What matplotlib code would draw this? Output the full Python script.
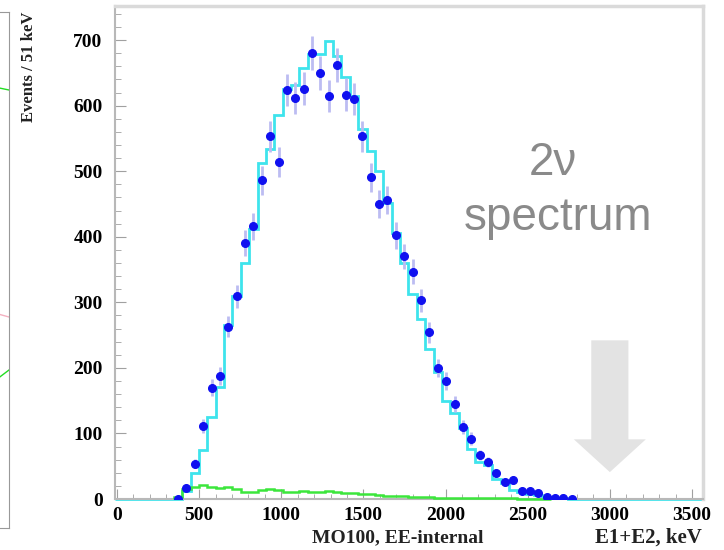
import numpy as np
import matplotlib
matplotlib.use("Agg")
import matplotlib.pyplot as plt
from matplotlib.patches import FancyArrow
from matplotlib.ticker import MultipleLocator

# Bines de 51 keV, el primero con datos empieza en 346 keV
ancho_bin = 51
borde_min = -11
primer_bin = 7

eventos = [0, 17, 54, 112, 170, 188, 263, 309, 390, 416,
           486, 553, 514, 624, 612, 626, 680, 650, 615, 662,
           617, 610, 553, 491, 450, 456, 402, 370, 347, 303,
           254, 200, 180, 145, 110, 92, 67, 57, 40, 26,
           29, 12, 12, 9, 3, 1, 1, 0]

mc_2nu = [0, 12, 40, 75, 125, 171, 265, 310, 360, 412,
          512, 534, 586, 625, 632, 657, 679, 679, 698, 676,
          643, 615, 564, 531, 500, 452, 406, 360, 312, 274,
          229, 193, 150, 131, 108, 76, 57, 52, 30, 25,
          14, 10, 8, 6, 3, 2, 1, 0]

fondo = [3, 15, 19, 22, 19, 17, 19, 16, 11, 11,
         13, 15, 14, 10, 11, 12, 11, 11, 12, 10,
         9, 9, 8, 7, 6, 5, 4, 4, 3, 3,
         3, 2, 2, 2, 2, 1, 1, 1, 1, 1,
         1, 0, 0, 0, 0]

# trozos del panel vecino (x, y en pixeles)
panel_izq_verde1 = ([-20, 9], [84, 90])
panel_izq_verde2 = ([-20, 9], [392, 370])
panel_izq_rosa = ([-20, 9], [309, 317])

bordes = np.arange(borde_min, 3560, ancho_bin)
mc_total = np.zeros(len(bordes) - 1)
mc_total[primer_bin:primer_bin + len(mc_2nu)] = mc_2nu
centros = bordes[primer_bin:primer_bin + len(eventos)] + ancho_bin / 2
bordes_fondo = bordes[primer_bin:primer_bin + len(fondo) + 1]

fig = plt.figure(figsize=(7.24, 5.50), dpi=100)
ax = fig.add_axes([115 / 724, 51 / 550, 588 / 724, 493 / 550])

ax.stairs(mc_total, bordes, color="#3ee4ec", lw=2, clip_on=False, zorder=2)
ax.stairs(fondo, bordes_fondo, color="#3ce63c", lw=1.8, clip_on=False, zorder=3)
ax.errorbar(centros, eventos, yerr=np.sqrt(eventos), fmt="o", color="#1010f0",
            ms=5.5, ecolor="#bcbcf2", elinewidth=2, capsize=0, zorder=4)

# flecha hacia 3000 keV
ax.add_patch(FancyArrow(3000, 242, 0, -201, width=226, head_width=438,
                        head_length=50, length_includes_head=True,
                        color="#e3e3e3", ec="none", zorder=1))

ax.set_xlim(-12, 3567)
ax.set_ylim(0, 752)
ax.xaxis.set_major_locator(MultipleLocator(500))
ax.xaxis.set_minor_locator(MultipleLocator(100))
ax.yaxis.set_major_locator(MultipleLocator(100))
ax.yaxis.set_minor_locator(MultipleLocator(20))
ax.tick_params(axis="both", which="both", direction="in", color="#a0a0a0",
               labelsize=14, top=False, right=False)
ax.tick_params(axis="y", which="major", length=8, pad=9)
ax.tick_params(axis="y", which="minor", length=4.5)
ax.tick_params(axis="x", which="major", length=7, pad=6)
ax.tick_params(axis="x", which="minor", length=3.5)
for lab in ax.get_xticklabels() + ax.get_yticklabels():
    lab.set_family("Liberation Serif")
    lab.set_fontweight("bold")
for lado in ["left", "bottom"]:
    ax.spines[lado].set_color("#b8b8b8")
    ax.spines[lado].set_linewidth(1.5)
for lado in ["top", "right"]:
    ax.spines[lado].set_color("#dadada")
    ax.spines[lado].set_linewidth(2.5)

fuente = dict(family="Liberation Serif", fontweight="bold", color="#222222")
fig.text(29 / 724, 1 - 12 / 550, "Events / 51 keV", rotation=90,
         ha="center", va="top", fontsize=12, **fuente)
fig.text(398 / 724, 1 - 538 / 550, "MO100, EE-internal", ha="center",
         va="center", fontsize=14, **fuente)
fig.text(702 / 724, 1 - 538 / 550, "E1+E2, keV", ha="right",
         va="center", fontsize=15, **fuente)

gris = dict(family="Liberation Sans", color="#8a8a8a", fontsize=33,
            ha="center", va="center")
fig.text(553 / 724, 1 - 163 / 550, "2\u03bd", **gris)
fig.text(558 / 724, 1 - 218 / 550, "spectrum", **gris)

# borde del panel de la izquierda
ax2 = fig.add_axes([-20 / 724, 22 / 550, 29 / 724, 516 / 550])
ax2.set_xlim(-20, 9)
ax2.set_ylim(528, 12)
ax2.plot(*panel_izq_verde1, color="#22dd22", lw=1)
ax2.plot(*panel_izq_verde2, color="#22dd22", lw=1)
ax2.plot(*panel_izq_rosa, color="#f4b0c0", lw=1)
ax2.set_xticks([])
ax2.set_yticks([])
for lado in ax2.spines.values():
    lado.set_color("#999999")

fig.savefig("out.png", dpi=100, facecolor="white")
